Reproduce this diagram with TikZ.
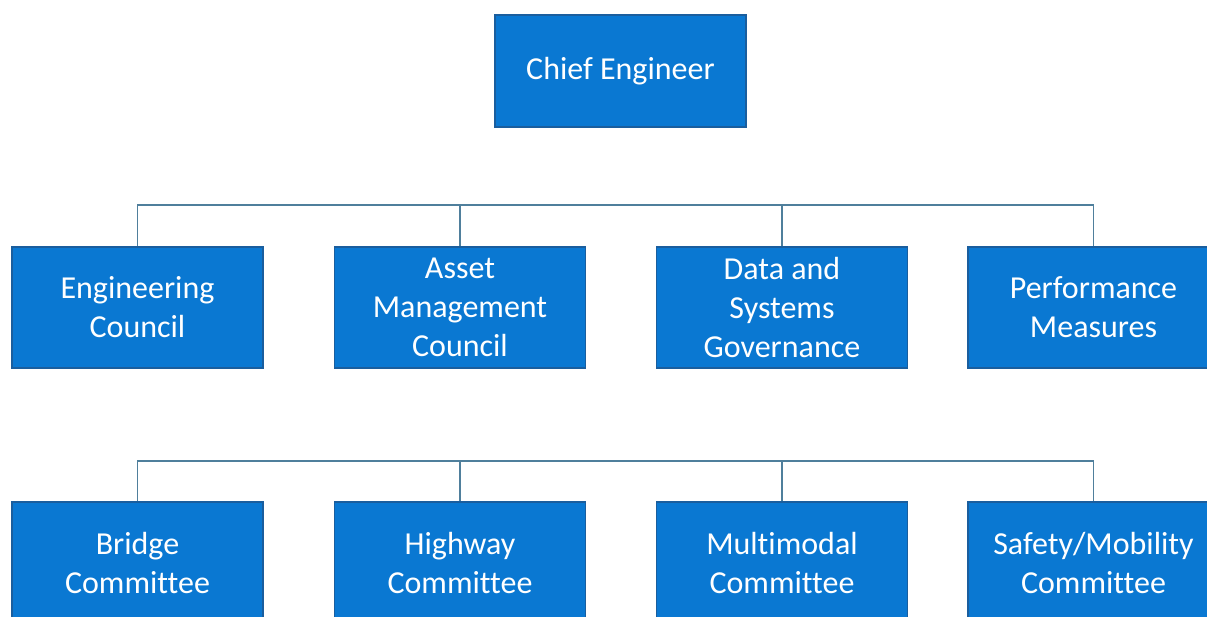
\documentclass[tikz,border=0pt]{standalone}
\usepackage{fontspec}
\setmainfont[Ligatures=NoCommon]{Carlito}
\definecolor{boxfill}{HTML}{0A78D2}
\definecolor{boxedge}{HTML}{1A5E9E}
\definecolor{linkcol}{HTML}{4F7F9C}
\begin{document}
\begin{tikzpicture}[x=1pt,y=-1pt,
  orgbox/.style={rectangle, fill=boxfill, draw=boxedge, line width=1.5pt,
    minimum width=251pt, minimum height=121pt, text=white, align=center,
    font=\fontsize{32}{39}\selectfont, inner sep=0pt},
  link/.style={draw=linkcol, line width=1.6pt}]
\useasboundingbox (0,0) rectangle (1207,616);
\clip (0,0) rectangle (1207,616);
\fill[white] (0,0) rectangle (1207,616);
% top
\node[orgbox, minimum height=112pt] (chief) at (620.5,71) {Chief Engineer};
% row 1
\node[orgbox] (r1a) at (137.5,307.5) {Engineering\\Council};
\node[orgbox] (r1b) at (460,307.5) {Asset\\Management\\Council};
\node[orgbox] (r1c) at (782,307.5) {Data and\\Systems\\Governance};
\node[orgbox] (r1d) at (1093.5,307.5) {Performance\\Measures};
% row 2
\node[orgbox] (r2a) at (137.5,562.5) {Bridge\\Committee};
\node[orgbox] (r2b) at (460,562.5) {Highway\\Committee};
\node[orgbox] (r2c) at (782,562.5) {Multimodal\\Committee};
\node[orgbox] (r2d) at (1093.5,562.5) {Safety/Mobility\\Committee};
% bars
\coordinate (bar1) at (620,205);
\coordinate (bar2) at (620,461);
\draw[link] (r1a.north) |- (bar1) -| (r1d.north);
\draw[link] (r1b.north) -- (r1b.north |- bar1);
\draw[link] (r1c.north) -- (r1c.north |- bar1);
\draw[link] (r2a.north) |- (bar2) -| (r2d.north);
\draw[link] (r2b.north) -- (r2b.north |- bar2);
\draw[link] (r2c.north) -- (r2c.north |- bar2);
\end{tikzpicture}
\end{document}
